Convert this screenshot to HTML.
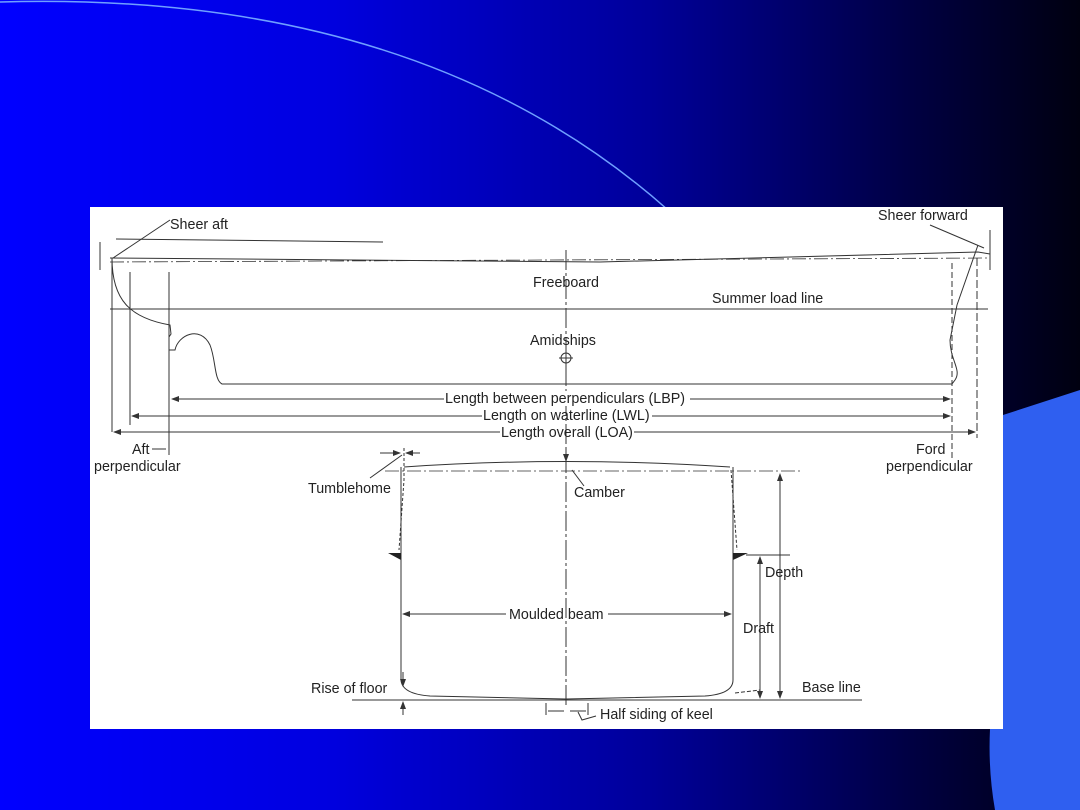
<!DOCTYPE html>
<html><head><meta charset="utf-8"><style>
html,body{margin:0;padding:0}
body{width:1080px;height:810px;overflow:hidden;background:linear-gradient(90deg,#0000ff 0%,#0000e0 30%,#00009a 60%,#000040 85%,#000010 100%);position:relative;font-family:"Liberation Sans",sans-serif}
svg{position:absolute;left:0;top:0}
text{font-family:"Liberation Sans",sans-serif;font-size:14.3px;fill:#222}
</style></head><body>
<svg width="1080" height="810" viewBox="0 0 1080 810">
<defs><marker id="a" markerWidth="8" markerHeight="6" refX="7" refY="3" orient="auto"><path d="M0,0 L8,3 L0,6 Z" fill="#333"/></marker></defs>
<path d="M0,2 Q420,-10 668,210" fill="none" stroke="#6fa0ff" stroke-width="1.5"/>
<path d="M1003,415 L1080,390 L1080,810 L995,810 Q988,770 990,729 L1003,729 Z" fill="#2f5ff0"/>
<rect x="90" y="207" width="913" height="522" fill="#fff"/>
<g fill="none" stroke="#333" stroke-width="1">
<path d="M116,239 L383,242"/>
<path d="M110,258 L600,262 L978,252 L990,254"/>
<path d="M110,262 L990,258" stroke-dasharray="14,3,2,3" stroke-width="0.8"/>
<path d="M112,258 C112,300 130,318 170,325 L171,334 L169,337 L169,350 L175,350 C178,335 200,325 210,345 C216,360 214,380 222,384 L952,384"/>
<path d="M978,245 L957,305 L950,340 C950,360 962,370 955,380 L952,384"/>
<path d="M110,309 L988,309"/>
<path d="M169,272 L169,455"/>
<path d="M952,263 L952,460" stroke-dasharray="6,3"/>
<path d="M130,272 L130,425"/>
<path d="M112,258 L112,432"/>
<path d="M977,258 L977,438" stroke-dasharray="8,3"/>
<path d="M100,242 L100,270"/>
<path d="M990,230 L990,270"/>
<path d="M113,258 L170,220"/>
<path d="M930,225 L984,248"/>
<path d="M444,399 L172,399" marker-end="url(#a)"/><path d="M690,399 L950,399" marker-end="url(#a)"/>
<path d="M482,416 L132,416" marker-end="url(#a)"/><path d="M652,416 L950,416" marker-end="url(#a)"/>
<path d="M500,432 L114,432" marker-end="url(#a)"/><path d="M634,432 L975,432" marker-end="url(#a)"/>
<path d="M152,449 L166,449"/>
<path d="M566,250 L566,705" stroke-dasharray="20,3,3,3"/>
<circle cx="566" cy="358" r="5"/><path d="M559,358 L573,358 M566,351 L566,366"/>
<path d="M401,467 L401,680 Q402,694 430,696 L566,699 L705,696 Q733,694 733,680 L733,467"/>
<path d="M404,467 Q566,456 730,467"/>
<path d="M385,471 L800,471" stroke-dasharray="14,3,2,3" stroke-width="0.8"/>
<path d="M404,448 L404,480 L399,550" stroke-dasharray="3,2"/>
<path d="M731,470 L737,550" stroke-dasharray="3,2"/>
<path d="M352,700 L862,700"/>
<path d="M780,476 L780,698" marker-end="url(#a)"/><path d="M780,695 L780,474" marker-end="url(#a)"/>
<path d="M760,558 L760,698" marker-end="url(#a)"/><path d="M760,695 L760,557" marker-end="url(#a)"/>
<path d="M746,555 L790,555"/>
<path d="M506,614 L403,614" marker-end="url(#a)"/><path d="M608,614 L731,614" marker-end="url(#a)"/>
<path d="M566,448 L566,461" marker-end="url(#a)"/>
<path d="M370,478 L402,455"/>
<path d="M380,453 L400,453" marker-end="url(#a)"/><path d="M420,453 L406,453" marker-end="url(#a)"/>
<path d="M572,470 L584,486"/>
<path d="M403,672 L403,686" marker-end="url(#a)"/><path d="M403,715 L403,702" marker-end="url(#a)"/>
<path d="M546,703 L546,715 M588,703 L588,715 M548,711 L564,711 M586,711 L570,711"/>
<path d="M578,712 L582,720 L596,716"/>
<path d="M735,693 L760,690" stroke-dasharray="4,2"/>
</g>
<path d="M388,553 L401,553 L401,560 Z" fill="#222"/>
<path d="M733,560 L733,553 L748,553 Z" fill="#222"/>
<g>
<rect x="444" y="391" width="246" height="15" fill="#fff"/>
<text x="170" y="229">Sheer aft</text>
<text x="878" y="220">Sheer forward</text>
<text x="533" y="287">Freeboard</text>
<text x="712" y="303">Summer load line</text>
<text x="530" y="345">Amidships</text>
<text x="445" y="403">Length between perpendiculars (LBP)</text>
<text x="483" y="420">Length on waterline (LWL)</text>
<text x="501" y="437">Length overall (LOA)</text>
<text x="132" y="454">Aft</text>
<text x="94" y="471">perpendicular</text>
<text x="916" y="454">Ford</text>
<text x="886" y="471">perpendicular</text>
<text x="308" y="493">Tumblehome</text>
<text x="574" y="497">Camber</text>
<text x="765" y="577">Depth</text>
<text x="743" y="633">Draft</text>
<text x="509" y="619">Moulded beam</text>
<text x="311" y="693">Rise of floor</text>
<text x="802" y="692">Base line</text>
<text x="600" y="719">Half siding of keel</text>
</g>
</svg>
</body></html>
